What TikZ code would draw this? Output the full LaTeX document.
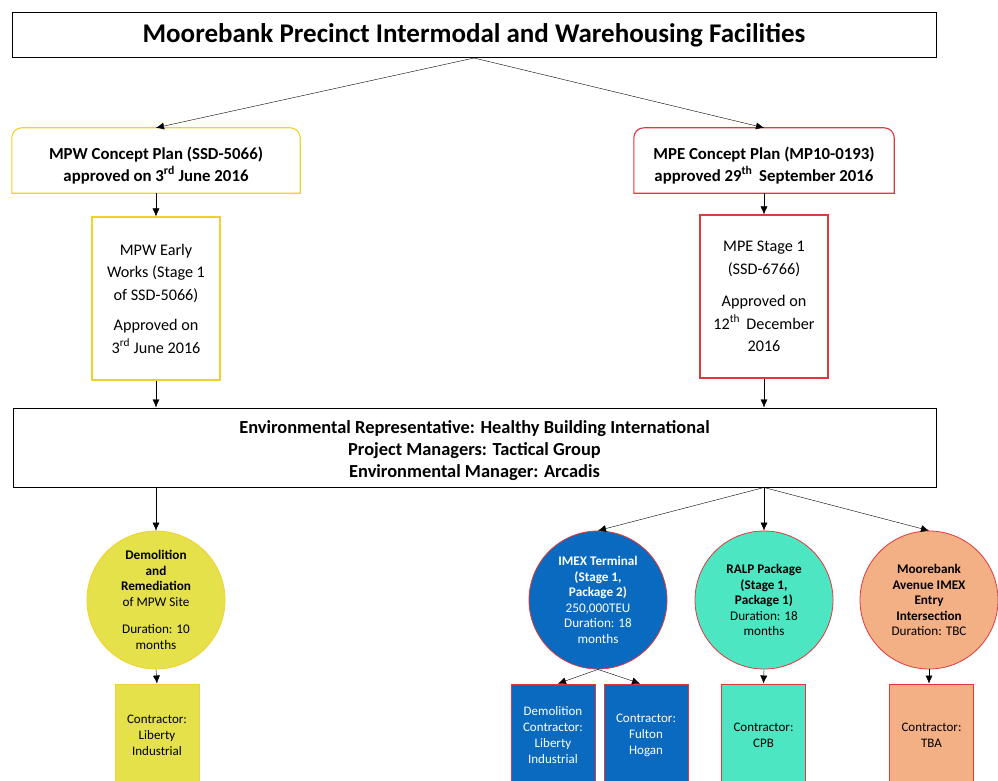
\documentclass[tikz,border=0pt]{standalone}
\usepackage{fontspec}
\setmainfont{Carlito}
\usetikzlibrary{arrows.meta}

\definecolor{yelline}{HTML}{F0D22E}
\definecolor{yelfill}{HTML}{E4E14B}
\definecolor{redline}{HTML}{E0383C}
\definecolor{imexblue}{HTML}{0A6AC0}
\definecolor{ralpgreen}{HTML}{4DE6C3}
\definecolor{salmon}{HTML}{F4B085}

\begin{document}
\begin{tikzpicture}[x=1pt, y=-1pt, >={Latex[length=8pt,width=7pt]},
	every node/.style={align=center, inner sep=0pt},
	plainbox/.style={draw=black, line width=1pt},
	concept/.style={font=\fontsize{16.8}{22}\selectfont\bfseries, minimum height=65pt},
	stagebox/.style={draw=#1, line width=1.1pt, fill=white, minimum width=128pt, minimum height=163pt, font=\fontsize{16.2}{22.5}\selectfont},
	pkg/.style={circle, draw=#1, line width=0.8pt, minimum size=138pt, font=\fontsize{13.2}{15.5}\selectfont},
	contr/.style={draw=#1, line width=0.9pt, minimum width=84pt, minimum height=102pt, font=\fontsize{13}{16}\selectfont}]
	\clip (0,0) rectangle (998,781);
	\fill[white] (0,0) rectangle (998,781);
	% top level
	\node[plainbox, minimum width=924pt, minimum height=45pt, font=\fontsize{27}{30}\selectfont\bfseries] (title) at (474,35) {Moorebank Precinct Intermodal and Warehousing Facilities};
	% concept plans
	\node[concept, minimum width=288pt] (cpW) at (156,160.5) {\rule{0pt}{22pt}MPW Concept Plan (SSD-5066)\\approved on 3\textsuperscript{rd} June 2016};
	\node[concept, minimum width=260pt] (cpE) at (764,160.5) {\rule{0pt}{22pt}MPE Concept Plan (MP10-0193)\\approved 29\textsuperscript{th}\, September 2016};
	\draw[yelline, line width=1.1pt] (cpW.south west) -- ([yshift=-10pt]cpW.north west) arc[start angle=180, end angle=90, radius=10pt] -- ([xshift=-10pt]cpW.north east) arc[start angle=90, end angle=0, radius=10pt] -- (cpW.south east) -- cycle;
	\draw[redline, line width=1.1pt] (cpE.south west) -- ([yshift=-10pt]cpE.north west) arc[start angle=180, end angle=90, radius=10pt] -- ([xshift=-10pt]cpE.north east) arc[start angle=90, end angle=0, radius=10pt] -- (cpE.south east) -- cycle;
	\draw[->] (title.south) -- (cpW.north);
	\draw[->] (title.south) -- (cpE.north);
	% stage approvals
	\node[stagebox=yelline] (stW) at (156,298.5) {MPW Early\\Works (Stage 1\\of SSD-5066)\\[8pt]Approved on\\3\textsuperscript{rd} June 2016};
	\node[stagebox=redline] (stE) at (764,296.5) {MPE Stage 1\\(SSD-6766)\\[10pt]Approved on\\12\textsuperscript{th}\, December\\2016};
	\draw[->] (cpW.south) -- (stW.north);
	\draw[->] (cpE.south) -- (stE.north);
	% project team
	\node[plainbox, minimum width=923pt, minimum height=79pt, font=\fontsize{18.4}{22}\selectfont\bfseries] (team) at (474.5,447.5) {\rule{0pt}{19pt}Environmental Representative: Healthy Building International\\Project Managers: Tactical Group\\Environmental Manager: Arcadis};
	\draw[->] (stW.south) -- (stW.south |- team.north);
	\draw[->] (stE.south) -- (stE.south |- team.north);
	% packages
	\node[pkg=yelline, fill=yelfill] (demo) at (156,600) {\textbf{Demolition}\\\textbf{and}\\\textbf{Remediation}\\of MPW Site\\[12pt]Duration: 10\\months};
	\node[pkg=redline, fill=imexblue, text=white] (imex) at (598,600) {\textbf{IMEX Terminal}\\\textbf{(Stage 1,}\\\textbf{Package 2)}\\250,000TEU\\Duration: 18\\months};
	\node[pkg=redline, fill=ralpgreen] (ralp) at (764,600) {\textbf{RALP Package}\\\textbf{(Stage 1,}\\\textbf{Package 1)}\\Duration: 18\\months};
	\node[pkg=redline, fill=salmon] (mave) at (929,600) {\textbf{Moorebank}\\\textbf{Avenue IMEX}\\\textbf{Entry}\\\textbf{Intersection}\\Duration: TBC};
	\coordinate (hub) at (team.south -| ralp.north);
	\draw[->] (demo.north |- team.south) -- (demo.north);
	\draw[->] (hub) -- (imex.north);
	\draw[->] (hub) -- (ralp.north);
	\draw[->] (hub) -- (mave.north);
	% contractors
	\node[contr=yelline, fill=yelfill] (conW) at (157,735) {Contractor:\\Liberty\\Industrial};
	\node[contr=redline, fill=imexblue, text=white] (conDem) at (553,735) {Demolition\\Contractor:\\Liberty\\Industrial};
	\node[contr=redline, fill=imexblue, text=white] (conFH) at (646,735) {Contractor:\\Fulton\\Hogan};
	\node[contr=redline, fill=ralpgreen] (conCPB) at (763.5,735) {Contractor:\\CPB};
	\node[contr=redline, fill=salmon] (conTBA) at (931.5,735) {Contractor:\\TBA};
	\draw[->] (demo.south) -- (conW.north);
	\draw[->] (imex.south) -- ([xshift=5pt]conDem.north);
	\draw[->] (imex.south) -- ([xshift=-6pt]conFH.north);
	\draw[->] (ralp.south) -- (conCPB.north);
	\draw[->] (mave.south) -- (mave.south |- conTBA.north);
\end{tikzpicture}
\end{document}
